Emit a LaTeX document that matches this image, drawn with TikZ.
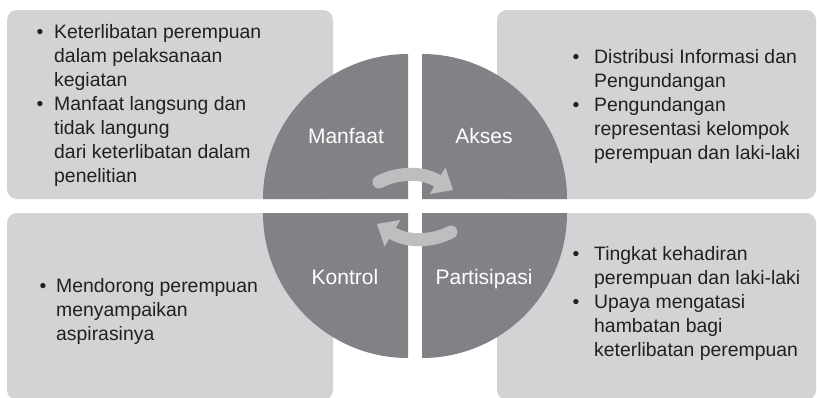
\documentclass[tikz,border=0pt]{standalone}
\usepackage{fontspec}
\setmainfont{Liberation Sans}
\usetikzlibrary{arrows.meta}
\definecolor{boxgrey}{HTML}{D1D3D4}
\definecolor{quadgrey}{HTML}{808285}
\definecolor{arrowgrey}{HTML}{BCBEC0}
\definecolor{inkgrey}{HTML}{231F20}
\begin{document}
\begin{tikzpicture}[x=1pt, y=-1pt,
    panel/.style={fill=boxgrey, rounded corners=10pt},
    quad/.style={fill=quadgrey},
    lbl/.style={text=white, font=\fontsize{21}{25}\selectfont, inner sep=0pt, anchor=base},
    txt/.style={text=inkgrey, font=\fontsize{19.4}{24}\selectfont, inner sep=0pt, align=left, anchor=base west},
    dot/.style={text=inkgrey, font=\fontsize{19.4}{24}\selectfont, inner sep=0pt, anchor=base},
    turn/.style={draw=arrowgrey, line width=13pt, line cap=round,
      -{Triangle[length=18pt, width=31pt, line width=0pt]}}]
  \useasboundingbox (0,0) rectangle (817,397);
  \clip (0,0) rectangle (817,397);
  % kotak latar
  \fill[panel] (7,10) rectangle (333,199);
  \fill[panel] (497,10) rectangle (816,199);
  \fill[panel] (7,213) rectangle (333,400);
  \fill[panel] (497,213) rectangle (816,400);
  % empat kuadran lingkaran
  \foreach \cx/\cy/\a in {408/199/180, 422/199/270, 408/213/90, 422/213/0}{
    \fill[quad] (\cx,\cy) -- ++(\a:145) arc[start angle=\a, delta angle=90, radius=145] -- cycle;
  }
  % panah siklus
  \coordinate (ta) at (379,182);
  \coordinate (ha) at (453,190);
  \coordinate (tb) at (451,232);
  \coordinate (hb) at (377,224);
  \draw[turn] (ta) .. controls (396,173) and (421,171) .. (ha);
  \draw[turn] (tb) .. controls (434,241) and (409,243) .. (hb);
  % label kuadran
  \node[lbl] (manfaat) at (346,143) {Manfaat};
  \node[lbl] (akses) at (484,143) {Akses};
  \node[lbl] (kontrol) at (345,284) {Kontrol};
  \node[lbl] (partisipasi) at (484,284) {Partisipasi};
  % isi kotak kiri atas (anchor = baris terakhir)
  \node[dot] (b1) at (40,38) {•};
  \node[txt] (m1) at (54,86) {Keterlibatan perempuan\\dalam pelaksanaan\\kegiatan};
  \node[dot] (b2) at (40,110) {•};
  \node[txt] (m2) at (54,182) {Manfaat langsung dan\\tidak langung\\dari keterlibatan dalam\\penelitian};
  % isi kotak kanan atas
  \node[dot] (b3) at (576,63) {•};
  \node[txt] (a1) at (594,87) {Distribusi Informasi dan\\Pengundangan};
  \node[dot] (b4) at (576,111) {•};
  \node[txt] (a2) at (594,159) {Pengundangan\\representasi kelompok\\perempuan dan laki-laki};
  % isi kotak kiri bawah
  \node[dot] (b5) at (43,292) {•};
  \node[txt] (k1) at (56,340) {Mendorong perempuan\\menyampaikan\\aspirasinya};
  % isi kotak kanan bawah
  \node[dot] (b6) at (576,260) {•};
  \node[txt] (p1) at (594,284) {Tingkat kehadiran\\perempuan dan laki-laki};
  \node[dot] (b7) at (576,308) {•};
  \node[txt] (p2) at (594,356) {Upaya mengatasi\\hambatan bagi\\keterlibatan perempuan};
\end{tikzpicture}
\end{document}
